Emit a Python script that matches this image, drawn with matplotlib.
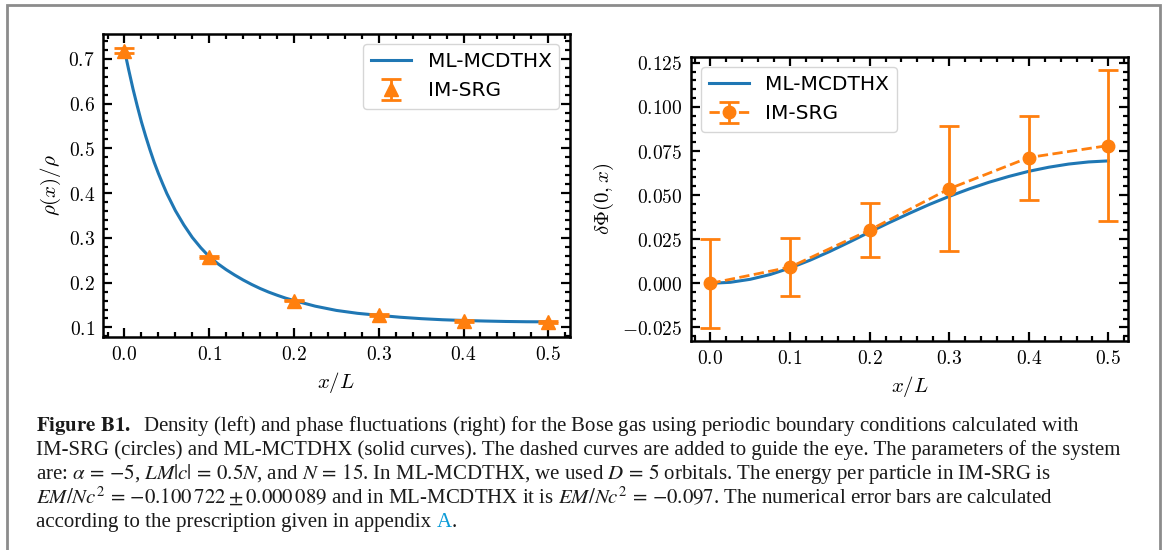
import matplotlib
matplotlib.use("Agg")
import matplotlib.pyplot as plt
from matplotlib.ticker import MultipleLocator, FuncFormatter
from matplotlib.patches import Rectangle

# ---------------- data ----------------
# left panel: density
rho_curve_x = [0.0, 0.0025, 0.005, 0.0075, 0.01, 0.015, 0.02, 0.025, 0.03, 0.035, 0.04, 0.045,
               0.05, 0.06, 0.07, 0.08, 0.09, 0.10, 0.11, 0.12, 0.13, 0.14, 0.15, 0.16, 0.17,
               0.18, 0.19, 0.20, 0.225, 0.25, 0.275, 0.30, 0.325, 0.35, 0.375, 0.40, 0.425,
               0.45, 0.475, 0.50]
rho_curve_y = [0.720, 0.697, 0.675, 0.654, 0.633, 0.595, 0.559, 0.527, 0.497, 0.469, 0.444, 0.421,
               0.399, 0.361, 0.329, 0.301, 0.278, 0.258, 0.2425, 0.229, 0.217, 0.206, 0.196, 0.187, 0.179,
               0.172, 0.1655, 0.160, 0.1475, 0.138, 0.1315, 0.127, 0.1228, 0.1196, 0.1172, 0.1155, 0.1143,
               0.1133, 0.1127, 0.1125]
rho_pts_x = [0.0, 0.1, 0.2, 0.3, 0.4, 0.5]
rho_pts_y = [0.718, 0.258, 0.160, 0.127, 0.115, 0.112]
rho_pts_err = [0.006, 0.002, 0.002, 0.002, 0.002, 0.002]

# right panel: phase fluctuations
phi_curve_x = [0.0, 0.025, 0.05, 0.075, 0.10, 0.125, 0.15, 0.175, 0.20, 0.225, 0.25,
               0.275, 0.30, 0.325, 0.35, 0.375, 0.40, 0.425, 0.45, 0.475, 0.50]
phi_curve_y = [0.0, 0.0006, 0.0023, 0.0050, 0.0087, 0.0131, 0.0181, 0.0235, 0.0291, 0.0345, 0.0397,
               0.0447, 0.0493, 0.0535, 0.0573, 0.0606, 0.0635, 0.0658, 0.0676, 0.0688, 0.0694]
phi_pts_x = [0.0, 0.1, 0.2, 0.3, 0.4, 0.5]
phi_pts_y = [0.0, 0.0092, 0.0302, 0.0536, 0.0713, 0.0781]
phi_pts_err = [0.0252, 0.0163, 0.0153, 0.0353, 0.0238, 0.0427]

label_curve = "ML-MCDTHX"
label_pts = "IM-SRG"

caption_lines = [
    r"$\mathbf{Figure\ B1.}$  Density (left) and phase fluctuations (right) for the Bose gas using periodic boundary conditions calculated with",
    "IM-SRG (circles) and ML-MCTDHX (solid curves). The dashed curves are added to guide the eye. The parameters of the system",
    r"are: $\alpha\,=\,{-}5$, $LM|c|\,=\,0.5N$, and $N\,=\,15$. In ML-MCDTHX, we used $D\,=\,5$ orbitals. The energy per particle in IM-SRG is",
    r"$EM/Nc^2\,=\,{-}0.100\,722 \pm 0.000\,089$ and in ML-MCDTHX it is $EM/Nc^2\,=\,{-}0.097$. The numerical error bars are calculated",
    "according to the prescription given in appendix",
]

# ---------------- figure ----------------
W, H = 1174, 550
DPI = 100
plt.rcParams["mathtext.fontset"] = "cm"
fig = plt.figure(figsize=(W / DPI, H / DPI), dpi=DPI)

def px_axes(x0, x1, y0, y1):
    return [x0 / W, 1 - y1 / H, (x1 - x0) / W, (y1 - y0) / H]

ax1 = fig.add_axes(px_axes(103.3, 569.5, 34.3, 336.7))
ax2 = fig.add_axes(px_axes(690.6, 1128.3, 57.3, 340.7))

blue = "#1f77b4"
orange = "#ff7f0e"

ax1.plot(rho_curve_x, rho_curve_y, color=blue, lw=2.2, label=label_curve)
ax1.errorbar(rho_pts_x, rho_pts_y, yerr=rho_pts_err, fmt="^", color=orange, ms=10,
             capsize=7.5, elinewidth=2, capthick=2, label=label_pts)

ax2.plot(phi_curve_x, phi_curve_y, color=blue, lw=2.2, label=label_curve)
ax2.errorbar(phi_pts_x, phi_pts_y, yerr=phi_pts_err, fmt="o--", color=orange, ms=9, lw=2,
             capsize=7, elinewidth=2, capthick=2, label=label_pts)

def style(ax, ymaj, ymin, fmt):
    ax.xaxis.set_major_locator(MultipleLocator(0.1))
    ax.xaxis.set_minor_locator(MultipleLocator(0.02))
    ax.yaxis.set_major_locator(MultipleLocator(ymaj))
    ax.yaxis.set_minor_locator(MultipleLocator(ymin))
    ax.xaxis.set_major_formatter(FuncFormatter(lambda v, p: f"${v:.1f}$"))
    ax.yaxis.set_major_formatter(FuncFormatter(lambda v, p: ("$" + fmt.format(v) + "$").replace("$-0.000$", "$0.000$")))
    ax.tick_params(which="both", direction="in", top=True, right=True, width=1.6, labelsize=14, pad=6)
    ax.tick_params(which="major", length=6.5)
    ax.tick_params(which="minor", length=3.5)
    for s in ax.spines.values():
        s.set_linewidth(1.8)

style(ax1, 0.1, 0.02, "{:.1f}")
style(ax2, 0.025, 0.005, "{:.3f}")

ax1.set_xlabel(r"$x/L$", fontsize=15)
ax1.set_ylabel(r"$\rho(x)/\rho$", fontsize=15)
ax2.set_xlabel(r"$x/L$", fontsize=15)
ax2.set_ylabel(r"$\delta\Phi(0,x)$", fontsize=15)

ax1.legend(loc="upper right", fontsize=14.5, edgecolor="0.8", framealpha=0.8)
ax2.legend(loc="upper left", fontsize=14.5, edgecolor="0.8", framealpha=0.8)

# outer border box (bottom edge beyond the image)
fig.patches.append(Rectangle((6.9 / W, -0.1), (1160 - 6.9) / W, 1.1 - 4.7 / H,
                             transform=fig.transFigure, fill=False, edgecolor="#8c8c8c",
                             lw=2, figure=fig))

# ---------------- caption ----------------
renderer = fig.canvas.get_renderer()
cap_font = "Liberation Serif"
probe = fig.text(0, 0, caption_lines[1], fontsize=15, family=cap_font)
w = probe.get_window_extent(renderer).width
probe.remove()
cap_size = 15 * (1122.7 - 36) / w

baselines = [431, 455, 479, 503, 527]
texts = []
for line, yb in zip(caption_lines, baselines):
    t = fig.text(36 / W, 1 - yb / H, line, fontsize=cap_size, family=cap_font,
                 math_fontfamily="stix", va="baseline", ha="left", color="#1a1a1a")
    texts.append(t)

last = texts[-1]
ann = fig.text(0, 0, "A", fontsize=cap_size, family=cap_font, color="#0b9bd7")
bb = last.get_window_extent(renderer)
space = cap_size * 0.25 * DPI / 72
ann.set_position(((bb.x1 + space) / W, 1 - baselines[-1] / H))
ann.set_va("baseline")
bbA = ann.get_window_extent(renderer)
fig.text(bbA.x1 / W, 1 - baselines[-1] / H, ".", fontsize=cap_size, family=cap_font,
         va="baseline", color="#1a1a1a")

fig.savefig("out.png", dpi=DPI)
